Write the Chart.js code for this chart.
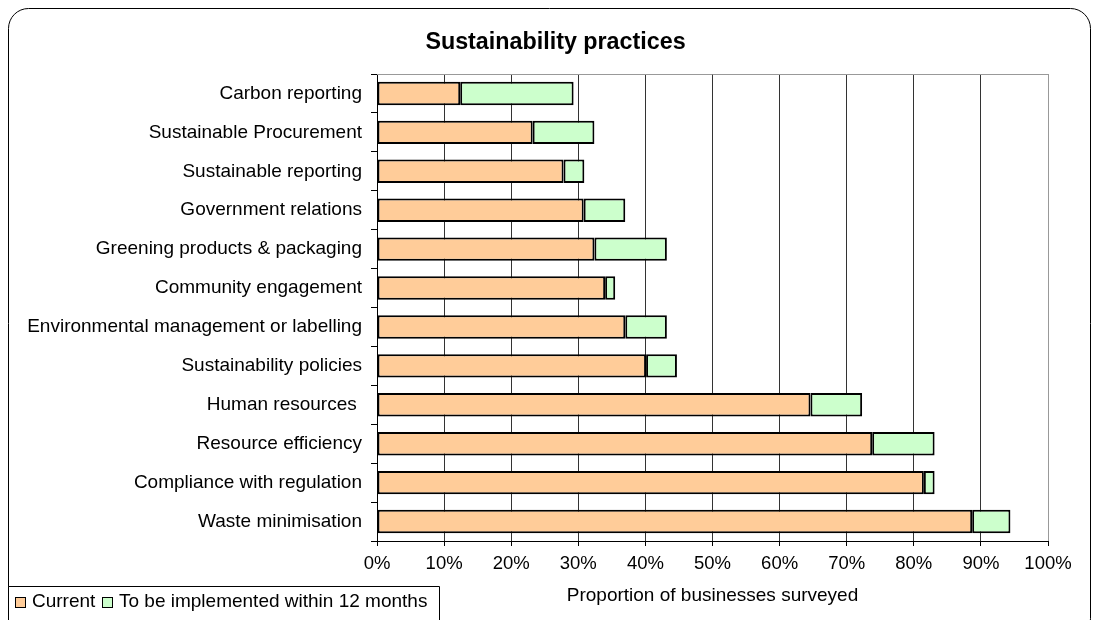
<!DOCTYPE html>
<html>
<head>
<meta charset="utf-8">
<title>Sustainability practices</title>
<script src="https://cdn.jsdelivr.net/npm/chart.js@4.4.1/dist/chart.umd.min.js"></script>
<style>
  html, body { margin: 0; padding: 0; background: #ffffff; }
  #wrap { width: 1093px; height: 620px; position: relative; }
</style>
</head>
<body>
<div id="wrap"><canvas id="chart" width="1093" height="620"></canvas></div>
<script>
// Practices, listed top to bottom
const practices = [
  'Carbon reporting',
  'Sustainable Procurement',
  'Sustainable reporting',
  'Government relations',
  'Greening products & packaging',
  'Community engagement',
  'Environmental management or labelling',
  'Sustainability policies',
  'Human resources ',
  'Resource efficiency',
  'Compliance with regulation',
  'Waste minimisation'
];

// Share of businesses already doing each practice (%)
const currentPct = [12.4, 23.2, 27.8, 30.8, 32.4, 34.0, 37.0, 40.1, 64.6, 73.8, 81.5, 88.7];

// Additional share planning it within the next year (%)
const plannedPct = [16.9, 9.2, 3.1, 6.2, 10.8, 1.5, 6.2, 4.6, 7.7, 9.3, 1.6, 5.7];

const seriesNames = ['Current', 'To be implemented within 12 months'];
const chartTitle = 'Sustainability practices';
const xAxisTitle = 'Proportion of businesses surveyed';
const xTickValues = [0, 10, 20, 30, 40, 50, 60, 70, 80, 90, 100];

const FONT = 'Liberation Sans, Arial, sans-serif';
const ORANGE = '#FFCC99';
const GREEN = '#CCFFCC';

// Rounded outer frame, title, plot-area top border and boxed legend
const decorations = {
  id: 'decorations',
  afterDraw(chart) {
    const ctx = chart.ctx;
    const area = chart.chartArea;
    ctx.save();

    // outer rounded frame
    ctx.strokeStyle = '#000000';
    ctx.lineWidth = 1;
    ctx.beginPath();
    ctx.roundRect(8.5, 8.5, 1082, 630, 20);
    ctx.stroke();

    // title
    ctx.fillStyle = '#000000';
    ctx.font = 'bold 23.3px ' + FONT;
    ctx.textAlign = 'center';
    ctx.textBaseline = 'middle';
    ctx.fillText(chartTitle, 555.5, 42.5);

    // top edge of the plot area
    ctx.strokeStyle = '#999999';
    ctx.beginPath();
    ctx.moveTo(area.left, Math.round(area.top) + 0.5);
    ctx.lineTo(area.right, Math.round(area.top) + 0.5);
    ctx.stroke();

    // legend box
    ctx.strokeStyle = '#000000';
    ctx.fillStyle = '#ffffff';
    ctx.beginPath();
    ctx.rect(8.5, 586.5, 431, 40);
    ctx.fill();
    ctx.stroke();

    const entries = chart.data.datasets.map(d => ({ label: d.label, color: d.backgroundColor }));
    const markerX = [15, 102];
    const textX = [32, 119];
    ctx.font = '19px ' + FONT;
    ctx.textAlign = 'left';
    ctx.textBaseline = 'alphabetic';
    entries.forEach((e, i) => {
      ctx.fillStyle = e.color;
      ctx.fillRect(markerX[i] + 0.5, 597.5, 10, 10);
      ctx.strokeStyle = '#000000';
      ctx.strokeRect(markerX[i] + 0.5, 597.5, 10, 10);
      ctx.fillStyle = '#000000';
      ctx.fillText(e.label, textX[i], 607);
    });

    ctx.restore();
  }
};

new Chart(document.getElementById('chart'), {
  type: 'bar',
  data: {
    labels: practices,
    datasets: [
      {
        label: seriesNames[0],
        data: currentPct,
        backgroundColor: ORANGE,
        borderColor: '#000000',
        borderWidth: 2,
        borderSkipped: false
      },
      {
        label: seriesNames[1],
        data: plannedPct,
        backgroundColor: GREEN,
        borderColor: '#000000',
        borderWidth: 2,
        borderSkipped: false
      }
    ]
  },
  options: {
    indexAxis: 'y',
    responsive: false,
    animation: false,
    devicePixelRatio: 1,
    layout: { padding: { top: 74, right: 45, bottom: 0, left: 0 } },
    datasets: {
      bar: { categoryPercentage: 1.0, barPercentage: 0.6 }
    },
    plugins: {
      legend: { display: false },
      title: { display: false },
      tooltip: { enabled: false }
    },
    scales: {
      x: {
        stacked: true,
        min: 0,
        max: 100,
        afterBuildTicks(scale) {
          scale.ticks = xTickValues.map(v => ({ value: v }));
        },
        afterFit(scale) { scale.height = 79; },
        ticks: {
          color: '#000000',
          font: { family: FONT, size: 18.5 },
          padding: 7,
          maxRotation: 0,
          autoSkip: false,
          callback: v => v + '%'
        },
        grid: {
          color: ctx => (ctx.tick && ctx.tick.value === 100 ? '#999999' : '#333333'),
          tickColor: '#000000',
          tickLength: 5,
          lineWidth: 1
        },
        border: { color: '#000000', width: 1 },
        title: {
          display: true,
          text: xAxisTitle,
          color: '#000000',
          font: { family: FONT, size: 19 },
          padding: { top: 0, bottom: 13 }
        }
      },
      y: {
        stacked: true,
        afterFit(scale) { scale.width = 377; },
        ticks: {
          color: '#000000',
          font: { family: FONT, size: 19 },
          padding: 9,
          autoSkip: false
        },
        grid: {
          drawOnChartArea: false,
          drawTicks: true,
          tickLength: 6,
          color: '#000000',
          offset: true
        },
        border: { color: '#000000', width: 1 }
      }
    }
  },
  plugins: [decorations]
});
</script>
</body>
</html>
